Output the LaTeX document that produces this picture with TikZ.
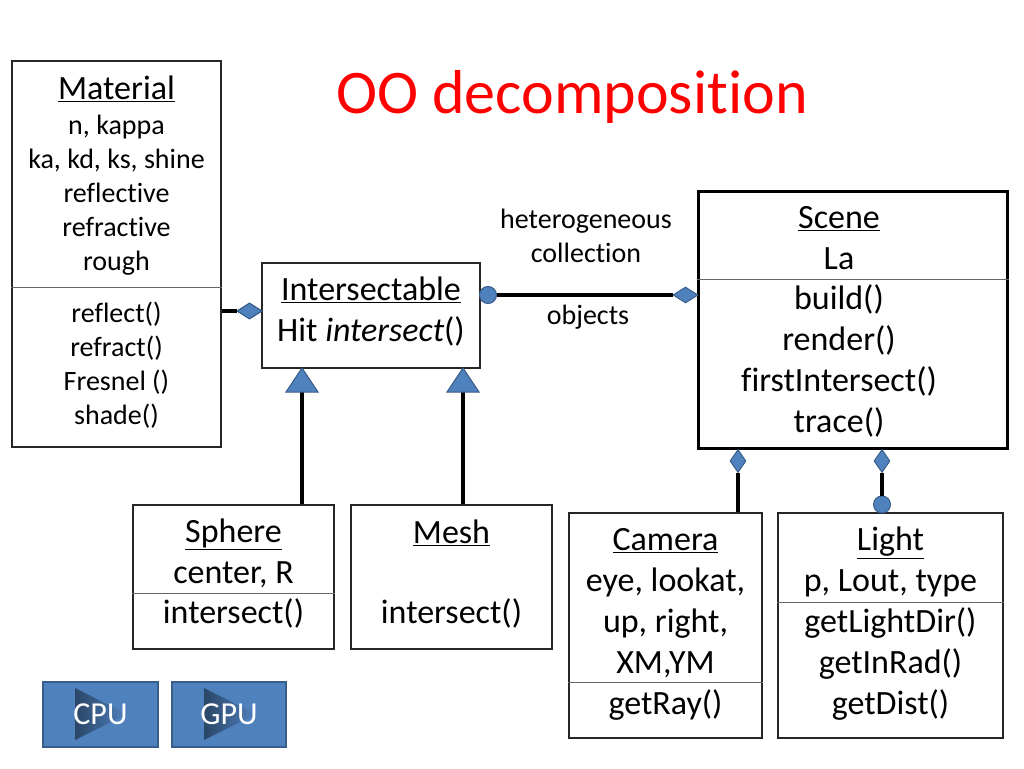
\documentclass[tikz,border=0pt]{standalone}
\usepackage{fontspec}
\setmainfont{Carlito}[Ligatures={NoCommon}]
\usetikzlibrary{shapes.geometric}
\definecolor{ublue}{HTML}{4F81BD}
\definecolor{ubluedark}{HTML}{385D8A}
\definecolor{titlered}{HTML}{FF0000}
\begin{document}
\begin{tikzpicture}[x=1pt,y=-1pt,
  box/.style={draw=black!85, line width=1.2pt, rectangle, inner sep=0pt},
  txt/.style={align=center, inner sep=0pt, font=\fontsize{34}{41}\selectfont},
  stxt/.style={align=center, inner sep=0pt, font=\fontsize{28}{34}\selectfont},
  conn/.style={line width=4pt},
  divider/.style={draw=black!60, line width=1pt},
  hdia/.style={diamond, draw=ubluedark, fill=ublue, line width=1pt, inner sep=0pt, minimum width=25pt, minimum height=16pt},
  vdia/.style={diamond, draw=ubluedark, fill=ublue, line width=1pt, inner sep=0pt, minimum width=16pt, minimum height=23pt},
  circ/.style={circle, draw=ubluedark, fill=ublue, line width=1pt, inner sep=0pt, minimum size=17pt},
  tri/.style={draw=ubluedark, fill=ublue, line width=1pt, line join=miter},
  btn/.style={rectangle, draw=ubluedark, fill=ublue, line width=2pt, minimum width=115pt, minimum height=65pt, inner sep=0pt},
  btntxt/.style={inner sep=0pt, text=white, font=\fontsize{32}{38}\selectfont}
]
\useasboundingbox[fill=white] (0,0) rectangle (1024,768);

% title
\node[inner sep=0pt, text=titlered, font=\fontsize{62}{74}\selectfont] (title) at (572,97) {OO decomposition};

% boxes
\node[box, minimum width=209pt, minimum height=386pt] (mat) at (116.5,254) {};
\node[box, minimum width=218pt, minimum height=105pt] (inter) at (371,315.5) {};
\node[box, draw=black, line width=3pt, minimum width=309pt, minimum height=257pt] (scene) at (852.5,319.5) {};
\node[box, minimum width=201pt, minimum height=144pt] (sph) at (233.5,577) {};
\node[box, minimum width=201pt, minimum height=144pt] (mesh) at (451.5,577) {};
\node[box, minimum width=193pt, minimum height=225pt] (cam) at (665.5,625.5) {};
\node[box, minimum width=225pt, minimum height=225pt] (light) at (890.5,625.5) {};

% dividers
\draw[divider] (mat.west |- 0,287) -- (mat.east |- 0,287);
\draw[divider] (scene.west |- 0,279) -- (scene.east |- 0,279);
\draw[divider] (sph.west |- 0,593) -- (sph.east |- 0,593);
\draw[divider] (cam.west |- 0,682) -- (cam.east |- 0,682);
\draw[divider] (light.west |- 0,602) -- (light.east |- 0,602);

% texts
\node[txt] (matT) at (116.5,89) {\underline{Material}};
\node[stxt] (matA) at (116.5,195) {n, kappa\\ka, kd, ks, shine\\reflective\\refractive\\rough};
\node[stxt] (matM) at (116.5,365) {reflect()\\refract()\\Fresnel ()\\shade()};
\node[txt] (interT) at (371,312) {\underline{Intersectable}\\Hit \textit{intersect}()};
\node[txt] (sceneA) at (839,238.5) {\underline{Scene}\\La};
\node[txt] (sceneM) at (839,361) {build()\\render()\\firstIntersect()\\trace()};
\node[txt] (sphA) at (233.5,553.5) {\underline{Sphere}\\center, R};
\node[txt] (sphM) at (233.5,613) {intersect()};
\node[txt] (meshA) at (451.5,533) {\underline{Mesh}};
\node[txt] (meshM) at (451.5,613) {intersect()};
\node[txt] (camA) at (665.5,603) {\underline{Camera}\\eye, lookat,\\up, right,\\XM,YM};
\node[txt] (camM) at (665.5,705) {getRay()};
\node[txt] (lightA) at (890.5,562) {\underline{Light}\\p, Lout, type};
\node[txt] (lightM) at (890.5,664) {getLightDir()\\getInRad()\\getDist()};

% labels
\node[stxt] (lab1) at (586,236) {heterogeneous\\collection};
\node[stxt] (lab2) at (588,317) {objects};

% Material -- Intersectable
\node[hdia] (d1) at (249.5,311) {};
\draw[conn] (mat.east |- d1) -- (d1.west);
\node[hdia] (d1) at (249.5,311) {};

% Intersectable -- Scene
\node[circ] (c1) at (488,295) {};
\node[hdia] (d2) at (685.5,295) {};
\draw[conn] (c1.east) -- (d2.west);

% Scene -- Camera
\node[vdia] (d3) at (738,461) {};
\draw[conn] (d3.south) -- (d3 |- cam.north);
% Scene -- Light
\node[vdia] (d4) at (882,461) {};
\node[circ] (c2) at (882,504.5) {};
\draw[conn] (d4.south) -- (c2.north);

% inheritance
\coordinate (t1) at (302,392);
\coordinate (t2) at (463,392);
\draw[conn] (t1) -- (t1 |- sph.north);
\draw[conn] (t2) -- (t2 |- mesh.north);
\draw[tri] (286,392) -- (318,392) -- (302,368) -- cycle;
\draw[tri] (447,392) -- (479,392) -- (463,368) -- cycle;

% buttons
\node[btn] (cpu) at (100.5,714.5) {};
\node[btn, minimum width=114pt] (gpu) at (229,714.5) {};
\shade[left color=ubluedark!75!black, right color=ublue] (75,688) -- (127,714) -- (75,740) -- cycle;
\shade[left color=ubluedark!75!black, right color=ublue] (204,688) -- (256,714) -- (204,740) -- cycle;
\node[btntxt] (cpuT) at (cpu) {CPU};
\node[btntxt] (gpuT) at (gpu) {GPU};
\end{tikzpicture}
\end{document}
